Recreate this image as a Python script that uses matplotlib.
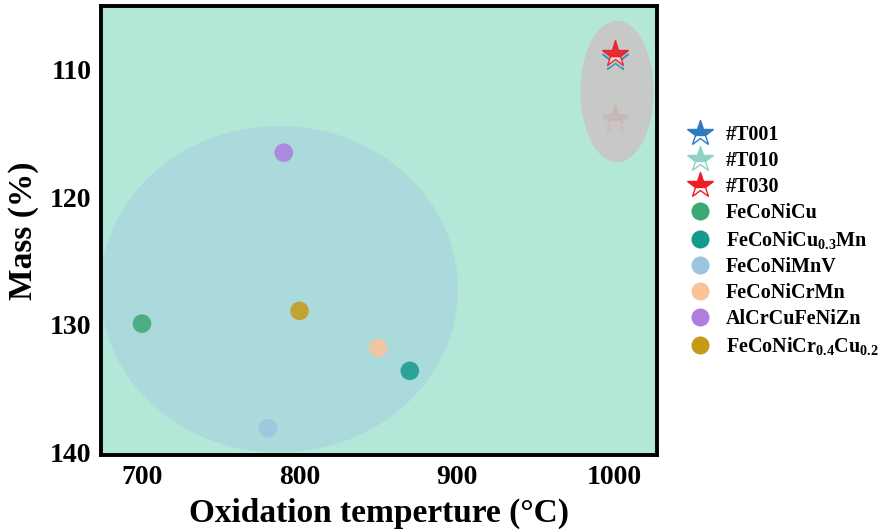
import matplotlib
matplotlib.use('Agg')
import matplotlib.pyplot as plt
from matplotlib.patches import Ellipse
from matplotlib.lines import Line2D

# alloy data (oxidation temperature, mass %)
alloys = ['FeCoNiCu', r'FeCoNiCu$_{0.3}$Mn', 'FeCoNiMnV', 'FeCoNiCrMn',
          'AlCrCuFeNiZn', r'FeCoNiCr$_{0.4}$Cu$_{0.2}$']
alloy_temp = [700, 870, 780, 850, 790, 800]
alloy_mass = [129.9, 133.6, 138.1, 131.8, 116.5, 128.9]
alloy_colors = ['#3aa874', '#159a90', '#9dc5e0', '#f9c39a', '#ad7ee0', '#c59a16']

# this work samples
samples = ['#T001', '#T010', '#T030']
sample_temp = [1000, 1000, 1000]
sample_mass_hi = [109.1, 108.9, 108.8]
sample_mass_lo = [114.0, 113.9, 113.8]
sample_colors = ['#2e7bc0', '#8fd1c6', '#ee1c25']

xticks = [700, 800, 900, 1000]
yticks = [110, 120, 130, 140]

plt.rcParams['font.family'] = ['Liberation Serif', 'DejaVu Serif']
plt.rcParams['font.weight'] = 'bold'
plt.rcParams['mathtext.fontset'] = 'custom'
plt.rcParams['mathtext.rm'] = 'Liberation Serif:bold'
plt.rcParams['mathtext.it'] = 'Liberation Serif:bold'
plt.rcParams['mathtext.bf'] = 'Liberation Serif:bold'

fig = plt.figure(figsize=(8.8, 5.32), dpi=100)
ax = fig.add_axes([0.1148, 0.1447, 0.632, 0.844])
ax.set_facecolor('#b3e8d8')

ax.add_patch(Ellipse((787, 127.2), 227, 25.6, facecolor='#a9d8dc', edgecolor='none', alpha=0.85, zorder=1))

for t, m, c in zip(sample_temp, sample_mass_lo, sample_colors):
    ax.plot(t, m, marker='*', markersize=20, color=c, markerfacecoloralt='white',
            fillstyle='top', linestyle='none', alpha=0.45, zorder=2)

ax.add_patch(Ellipse((1001.5, 111.7), 46.5, 11.1, facecolor='#cbc4c4', edgecolor='none', alpha=0.85, zorder=3))

for t, m, c in zip(sample_temp, sample_mass_hi, sample_colors):
    ax.plot(t, m, marker='*', markersize=20, color=c, markerfacecoloralt='#f5d0d4',
            fillstyle='top', linestyle='none', alpha=0.9, zorder=4)

for t, m, c in zip(alloy_temp, alloy_mass, alloy_colors):
    ax.scatter(t, m, s=180, color=c, alpha=0.85, edgecolors='none', zorder=5)

ax.set_xlim(674, 1027)
ax.set_ylim(140.2, 105)
ax.set_xticks(xticks)
ax.set_yticks(yticks)
ax.tick_params(length=0, labelsize=20, pad=7)
for lab in ax.get_xticklabels() + ax.get_yticklabels():
    lab.set_fontweight('bold')
for s in ax.spines.values():
    s.set_linewidth(2.8)

ax.set_xlabel('Oxidation temperture (°C)', fontsize=24, fontweight='bold', labelpad=6)
ax.set_ylabel('Mass (%)', fontsize=24, fontweight='bold', labelpad=8)

handles = []
for name, c in zip(samples, sample_colors):
    handles.append(Line2D([], [], marker='*', markersize=19, color=c, markerfacecoloralt='white',
                          fillstyle='top', linestyle='none', label=name))
for name, c in zip(alloys, alloy_colors):
    handles.append(Line2D([], [], marker='o', markersize=13, color=c, markeredgecolor='none',
                          linestyle='none', label=name))

fig.legend(handles=handles, loc='upper left', bbox_to_anchor=(0.768, 0.781), frameon=False,
           labelspacing=0.3, handletextpad=0.5, borderaxespad=0, handlelength=1.6,
           prop={'weight': 'bold', 'size': 14.5})

fig.savefig('out.png', dpi=100)
